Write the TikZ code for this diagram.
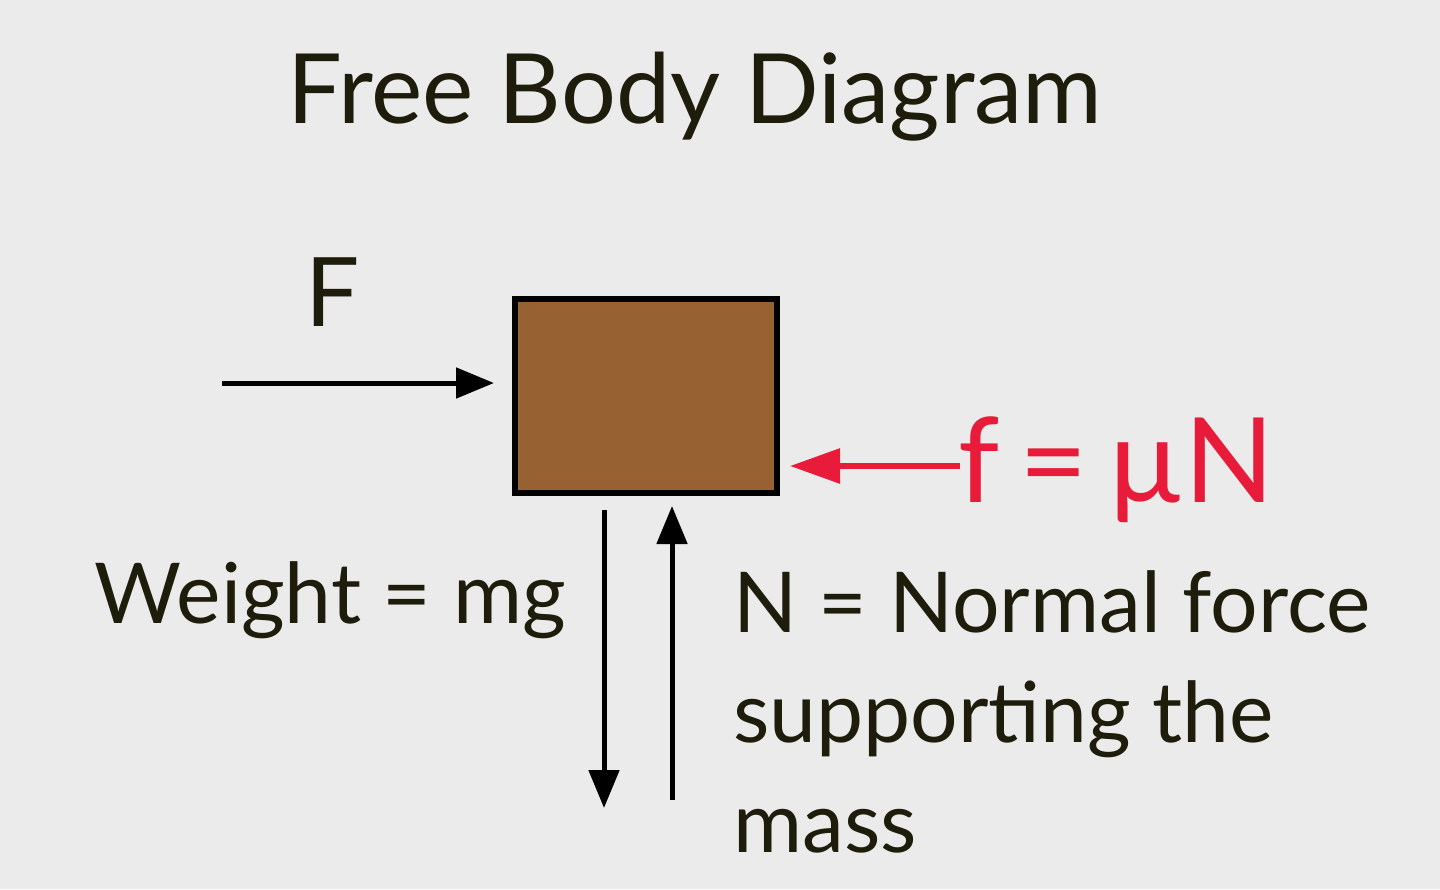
\documentclass[tikz,border=0pt]{standalone}
\usepackage{fontspec}
\setmainfont{Lato}
\usetikzlibrary{arrows.meta}
\definecolor{bg}{RGB}{235,235,235}
\definecolor{brown}{RGB}{152,97,50}
\definecolor{fred}{RGB}{232,28,58}
\definecolor{txt}{RGB}{30,28,10}
\begin{document}
\begin{tikzpicture}[x=1pt,y=-1pt,
  arr/.style={line width=5pt,-{Triangle[length=38pt,width=30pt]}},
  lab/.style={inner sep=0,text=txt,font=\fontsize{84}{110}\selectfont}]
\fill[bg] (0,0) rectangle (1440,889);
\useasboundingbox (0,0) rectangle (1440,889);
\node[lab,font=\fontsize{97}{100}\selectfont] (title) at (695,97) {Free Body Diagram};
\node[draw=black,line width=6pt,fill=brown,minimum width=262pt,minimum height=194pt,inner sep=0] (box) at (646,396) {};
\coordinate (fs) at (222,383);
\coordinate (fe) at (494,383);
\node[lab,font=\fontsize{96}{100}\selectfont] (F) at (333,292) {F};
\draw[arr] (fs) -- (fe);
\node[lab,anchor=west,text=fred,font=\fontsize{118}{100}\selectfont] (fr) at (958,470) {f\,=\,µN};
\coordinate (rs) at (960,466);
\coordinate (re) at (790,466);
\draw[arr,line width=6pt,draw=fred,fill=fred,-{Triangle[length=50pt,width=34pt]}] (rs) -- (re);
\coordinate (wb) at (604,808);
\coordinate (nb) at (672,800);
\draw[arr] (604,510) -- (wb);
\draw[arr] (nb) -- (672,506);
\node[lab,anchor=east] (w) at (566,600) {Weight = mg};
\node[lab,anchor=north west,align=left] (n) at (733,570) {N = Normal force\\supporting the\\mass};
\end{tikzpicture}
\end{document}
